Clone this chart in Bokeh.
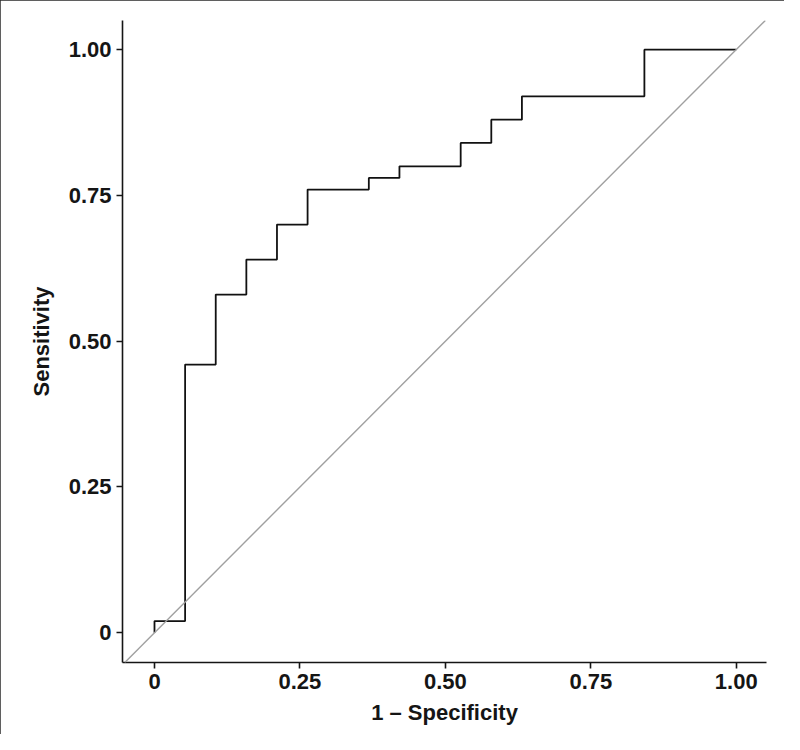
from bokeh.plotting import figure
from bokeh.models import Range1d, FixedTicker, Slope
from bokeh.embed import file_html
from bokeh.resources import INLINE

# ROC curve vertices (1 - specificity, sensitivity)
fpr = [0, 0, 1/19, 1/19, 2/19, 2/19, 3/19, 3/19, 4/19, 4/19, 5/19, 5/19,
       7/19, 7/19, 8/19, 8/19, 10/19, 10/19, 11/19, 11/19, 12/19, 12/19,
       16/19, 16/19, 1.0]
tpr = [0, 0.02, 0.02, 0.46, 0.46, 0.58, 0.58, 0.64, 0.64, 0.70, 0.70, 0.76,
       0.76, 0.78, 0.78, 0.80, 0.80, 0.84, 0.84, 0.88, 0.88, 0.92,
       0.92, 1.0, 1.0]

tick_values = [0, 0.25, 0.5, 0.75, 1.0]
tick_labels = ["0", "0.25", "0.50", "0.75", "1.00"]

FONT = "Liberation Sans"
INK = "#151515"

p = figure(width=784, height=734, output_backend="svg", toolbar_location=None,
           x_range=Range1d(-0.055, 1.052), y_range=Range1d(-0.051, 1.050),
           min_border_left=122, min_border_right=18, min_border_top=20,
           min_border_bottom=72)
p.styles = {"outline": "2px solid #2a2a2a", "outline-offset": "-2px"}

p.outline_line_color = None
p.grid.visible = False
p.background_fill_color = "white"
p.border_fill_color = "white"

# diagonal reference line
p.add_layout(Slope(gradient=1, y_intercept=0, line_color="#a0a0a0", line_width=1.4))

p.line(fpr, tpr, line_color="#111111", line_width=1.8)

for ax, lab in ((p.xaxis[0], "1 \u2013 Specificity"), (p.yaxis[0], "Sensitivity")):
    ax.ticker = FixedTicker(ticks=tick_values)
    ax.major_label_overrides = {v: t for v, t in zip(tick_values, tick_labels)}
    ax.axis_label = lab
    ax.axis_label_text_font = FONT
    ax.axis_label_text_font_style = "bold"
    ax.axis_label_text_font_size = "22px"
    ax.axis_label_text_color = INK
    ax.major_label_text_font = FONT
    ax.major_label_text_font_style = "bold"
    ax.major_label_text_font_size = "22px"
    ax.major_label_text_color = INK
    ax.axis_line_color = INK
    ax.axis_line_width = 1.6
    ax.major_tick_line_color = INK
    ax.major_tick_line_width = 1.6
    ax.major_tick_out = 6
    ax.major_tick_in = 0
    ax.minor_tick_line_color = None

p.xaxis.major_label_standoff = 5
p.xaxis.axis_label_standoff = 8
p.yaxis.major_label_standoff = 5
p.yaxis.axis_label_standoff = 12
p.yaxis.major_label_orientation = "horizontal"

html = file_html(p, INLINE)
open("out.html", "w").write(html)
